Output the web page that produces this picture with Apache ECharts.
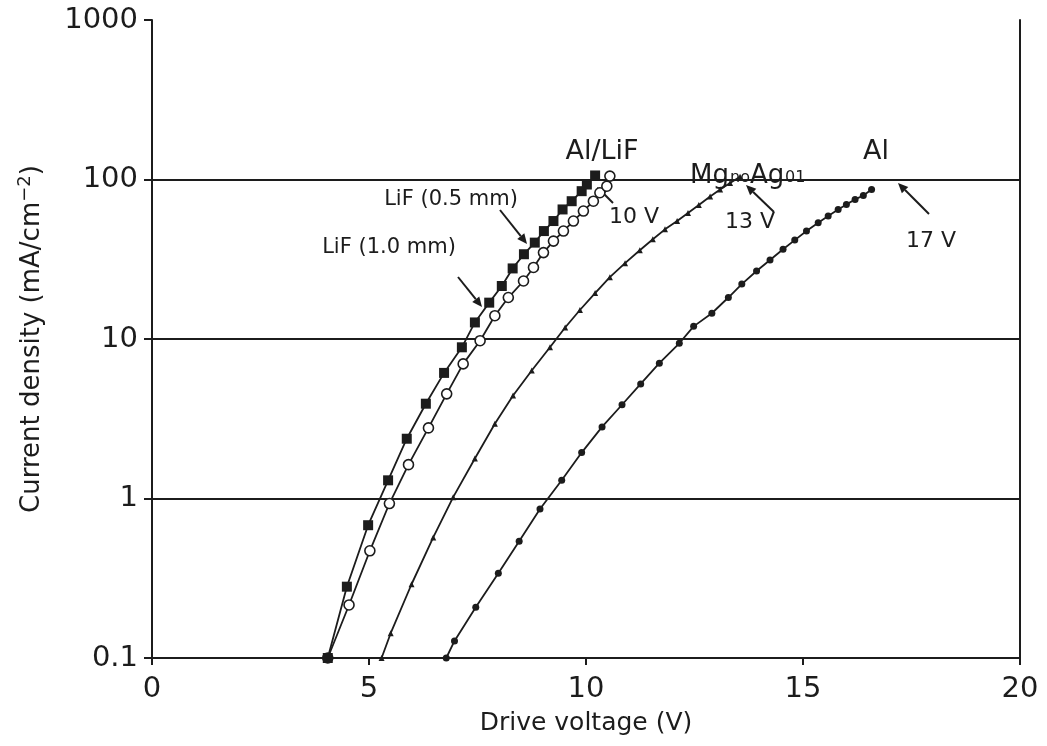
<!DOCTYPE html>
<html>
<head>
<meta charset="utf-8">
<script src="https://cdn.jsdelivr.net/npm/echarts@6/dist/echarts.min.js"></script>
<style>
  html, body { margin: 0; background: #fff; }
  #chart { width: 1047px; height: 746px; }
</style>
</head>
<body>
<div id="chart"></div>
<script>
// LiF (0.5 mm), filled squares
const lif05Volt = [4.05, 4.49, 4.98, 5.44, 5.87, 6.31, 6.73, 7.14, 7.44, 7.77, 8.06, 8.31, 8.57, 8.82, 9.03, 9.25, 9.46, 9.67, 9.90, 10.02, 10.21]
const lif05Curr = [0.10, 0.28, 0.68, 1.30, 2.37, 3.93, 6.13, 8.87, 12.7, 16.9, 21.5, 27.7, 34.0, 40.2, 47.5, 54.9, 64.9, 73.1, 84.5, 93, 106]
// LiF (1.0 mm), open markers
const lif10Volt = [4.05, 4.54, 5.02, 5.47, 5.91, 6.37, 6.79, 7.17, 7.56, 7.90, 8.21, 8.56, 8.79, 9.02, 9.25, 9.48, 9.71, 9.94, 10.17, 10.32, 10.48, 10.55]
const lif10Curr = [0.10, 0.215, 0.47, 0.93, 1.63, 2.77, 4.53, 6.98, 9.76, 14.0, 18.2, 23.1, 28.1, 34.8, 41.1, 47.5, 54.9, 63.4, 73.1, 82.6, 90.8, 105]
// MgAg cathode
const mgagVolt = [5.29, 5.50, 5.98, 6.48, 6.94, 7.44, 7.90, 8.32, 8.75, 9.17, 9.52, 9.86, 10.21, 10.55, 10.90, 11.24, 11.54, 11.82, 12.10, 12.35, 12.60, 12.86, 13.09, 13.32, 13.55]
const mgagCurr = [0.10, 0.143, 0.29, 0.57, 1.02, 1.78, 2.94, 4.42, 6.34, 8.87, 11.8, 15.2, 19.4, 24.4, 29.9, 36.0, 42.2, 48.7, 55.0, 61.7, 69.2, 78.3, 86.6, 95.1, 104]
// Al cathode
const alVolt = [6.78, 6.97, 7.46, 7.98, 8.46, 8.94, 9.44, 9.90, 10.37, 10.83, 11.26, 11.69, 12.15, 12.48, 12.90, 13.28, 13.59, 13.93, 14.24, 14.54, 14.81, 15.08, 15.35, 15.58, 15.81, 16.00, 16.20, 16.39, 16.58]
const alCurr = [0.10, 0.128, 0.208, 0.34, 0.54, 0.86, 1.30, 1.94, 2.81, 3.87, 5.23, 7.05, 9.40, 12.0, 14.5, 18.2, 22.1, 26.7, 31.3, 36.5, 41.7, 47.5, 53.6, 59.0, 64.9, 69.8, 75.0, 79.4, 86.6]

const xTicks = [0, 5, 10, 15, 20]
const yTicks = ['0.1', '1', '10', '100', '1000']

const font = '"DejaVu Sans", "Liberation Sans", Arial, sans-serif'
const ink = '#1c1c1c'

function zip(xs, ys) {
  return xs.map((x, i) => [x, ys[i]])
}

function arrow(x1, y1, x2, y2) {
  const a = Math.atan2(y2 - y1, x2 - x1)
  const h = 10
  const w = 4.5
  const bx = x2 - h * Math.cos(a)
  const by = y2 - h * Math.sin(a)
  return [
    { type: 'line', shape: { x1, y1, x2: bx, y2: by }, style: { stroke: ink, lineWidth: 2 } },
    {
      type: 'polygon',
      shape: { points: [[x2, y2], [bx + w * Math.sin(a), by - w * Math.cos(a)], [bx - w * Math.sin(a), by + w * Math.cos(a)]] },
      style: { fill: ink }
    }
  ]
}

function label(text, x, y, size) {
  return {
    type: 'text',
    style: { text, x, y, font: size + 'px ' + font, fill: ink, textAlign: 'center', textVerticalAlign: 'middle' }
  }
}

function sideLabel(text, x, y, size) {
  return {
    type: 'text',
    style: { text, x, y, font: size + 'px ' + font, fill: ink, textAlign: 'left', textVerticalAlign: 'alphabetic' }
  }
}

const chart = echarts.init(document.getElementById('chart'))

const lineBase = { type: 'line', smooth: false, animation: false, lineStyle: { color: ink, width: 1.8 } }

chart.setOption({
  backgroundColor: '#fff',
  animation: false,
  grid: { left: 152, right: 27, top: 20, bottom: 88 },
  xAxis: {
    type: 'value',
    min: 0,
    max: 20,
    interval: 5,
    name: 'Drive voltage (V)',
    nameLocation: 'middle',
    nameGap: 53,
    nameTextStyle: { fontFamily: font, fontSize: 25, color: ink },
    axisLine: { lineStyle: { color: ink, width: 2 } },
    axisTick: { length: 7, lineStyle: { color: ink, width: 2 } },
    axisLabel: {
      margin: 17,
      fontFamily: font,
      fontSize: 29,
      color: ink,
      formatter: v => (xTicks.indexOf(v) >= 0 ? String(v) : '')
    },
    splitLine: { show: false }
  },
  yAxis: [{
    type: 'log',
    logBase: 10,
    min: 0.1,
    max: 1000,
    name: '{t|Current density (mA/cm}{s|−2}{t|)}',
    nameLocation: 'middle',
    nameGap: 104,
    nameTextStyle: {
      rich: {
        t: { fontFamily: font, fontSize: 26, color: ink },
        s: { fontFamily: font, fontSize: 18, color: ink, padding: [0, 0, 14, 0] }
      }
    },
    axisLine: { show: true, lineStyle: { color: ink, width: 2 } },
    axisTick: { show: true, length: 8, lineStyle: { color: ink, width: 2 } },
    axisLabel: {
      margin: 14,
      fontFamily: font,
      fontSize: 29,
      color: ink,
      formatter: v => {
        const s = String(+v.toPrecision(6))
        return yTicks.indexOf(s) >= 0 ? s : ''
      }
    },
    splitLine: { show: true, showMinLine: false, showMaxLine: false, lineStyle: { color: ink, width: 2 } }
  }, {
    type: 'value',
    position: 'right',
    min: 0,
    max: 1,
    axisLine: { show: true, lineStyle: { color: ink, width: 2 } },
    axisTick: { show: false },
    axisLabel: { show: false },
    splitLine: { show: false }
  }],
  series: [
    Object.assign({}, lineBase, {
      name: 'LiF (1.0 mm)',
      data: zip(lif10Volt, lif10Curr),
      symbol: 'circle',
      symbolSize: 10,
      itemStyle: { color: '#fff', borderColor: ink, borderWidth: 1.6 }
    }),
    Object.assign({}, lineBase, {
      name: 'LiF (0.5 mm)',
      data: zip(lif05Volt, lif05Curr),
      symbol: 'rect',
      symbolSize: 10,
      itemStyle: { color: ink, borderColor: ink, borderWidth: 0 }
    }),
    Object.assign({}, lineBase, {
      name: 'MgAg',
      data: zip(mgagVolt, mgagCurr),
      symbol: 'triangle',
      symbolSize: 6,
      itemStyle: { color: ink, borderWidth: 0 }
    }),
    Object.assign({}, lineBase, {
      name: 'Al',
      data: zip(alVolt, alCurr),
      symbol: 'circle',
      symbolSize: 7,
      itemStyle: { color: ink, borderWidth: 0 }
    })
  ],
  graphic: [].concat(
    label('Al/LiF', 602, 152, 27),
    label('Al', 876, 152, 27),
    sideLabel('Mg', 690, 163, 26),
    sideLabel('no', 730, 170, 16),
    sideLabel('Ag', 750, 163, 26),
    sideLabel('01', 785, 170, 16),
    label('LiF (0.5 mm)', 451, 200, 21),
    label('LiF (1.0 mm)', 389, 248, 21),
    label('10 V', 634, 217, 22),
    label('13 V', 750, 222, 22),
    label('17 V', 931, 241, 22),
    arrow(500, 210, 527, 244),
    arrow(458, 277, 482, 307),
    arrow(613, 203, 597, 187),
    arrow(774, 212, 746, 185),
    arrow(929, 214, 898, 183)
  )
})
</script>
</body>
</html>
